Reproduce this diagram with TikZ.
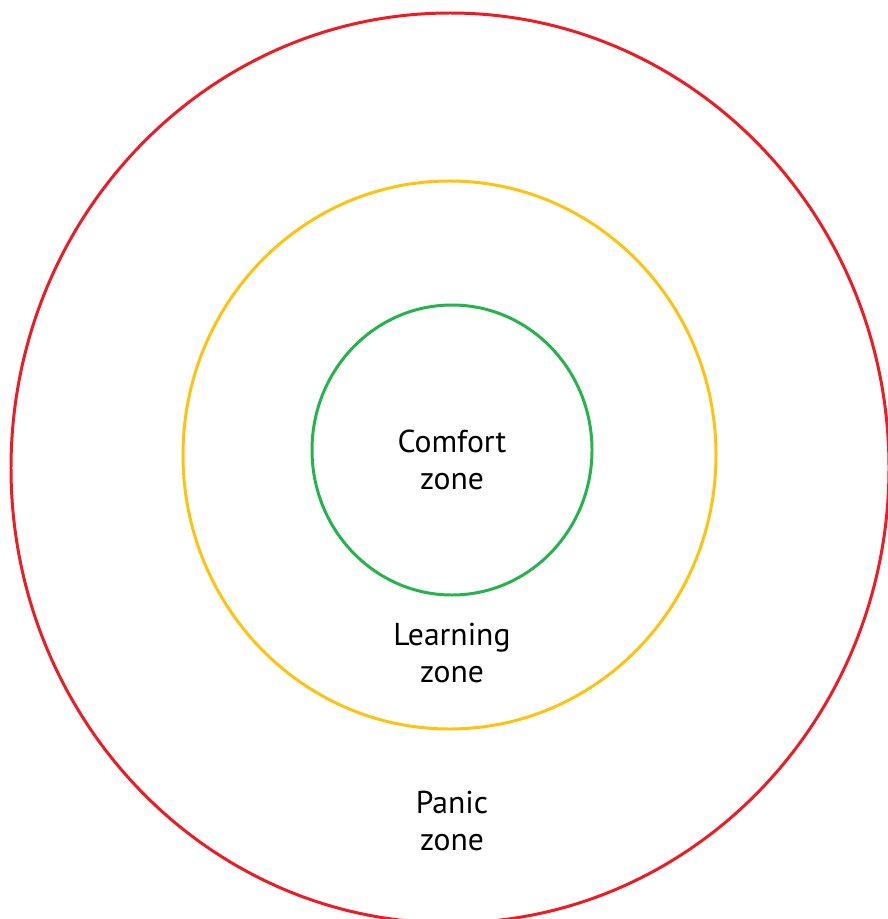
\documentclass[tikz,border=0pt]{standalone}
\usepackage{fontspec}
\setmainfont{PT Sans}
\usepackage{xcolor}
\usepackage{tikz}
\usetikzlibrary{positioning}

\definecolor{panicred}{RGB}{237,28,36}
\definecolor{learnyellow}{RGB}{255,194,14}
\definecolor{comfortgreen}{RGB}{37,180,75}

\tikzset{
    zone/.style={line width=1.7pt},
    zonelabel/.style={align=center, font=\fontsize{18}{21.5}\selectfont}
}

\begin{document}
\begin{tikzpicture}[x=0.02cm, y=-0.02cm]
    \useasboundingbox (0,0) rectangle (887,919);

    % panic zone
    \draw[zone, panicred] (450,468) ellipse (439 and 455);
    % learning zone
    \draw[zone, learnyellow] (449.5,455) ellipse (266.5 and 274);
    % comfort zone
    \draw[zone, comfortgreen] (452,450) ellipse (140 and 145);

    \node[zonelabel] (comfort) at (452,460) {Comfort\\zone};
    \node[zonelabel] (learning) at (452,653) {Learning\\zone};
    \node[zonelabel] (panic) at (452,821) {Panic\\zone};
\end{tikzpicture}
\end{document}
